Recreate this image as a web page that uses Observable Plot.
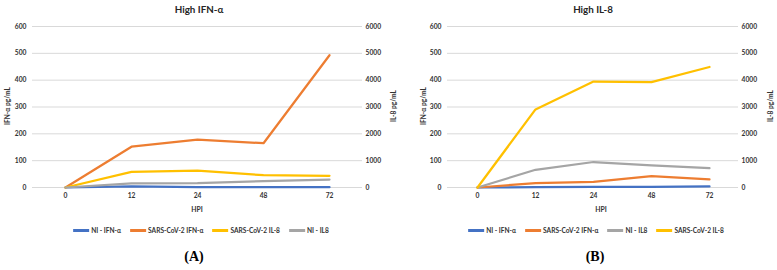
<!DOCTYPE html>
<html>
<head>
<meta charset="utf-8">
<script src="https://cdn.jsdelivr.net/npm/d3@7"></script>
<script src="https://cdn.jsdelivr.net/npm/@observablehq/plot@0.6"></script>
<style>
  html, body { margin: 0; padding: 0; background: #fff; }
  #root { position: relative; width: 777px; height: 270px; background: #fff; font-family: Lato, "Open Sans", sans-serif; color: #262626; overflow: hidden; }
  .abs { position: absolute; white-space: nowrap; }
  .title { font-size: 9.8px; font-weight: 700; transform: translate(-50%, -50%); }
  .ylab { font-size: 6.6px; font-weight: 700; transform: translate(-50%, -50%) rotate(-90deg); color: #333; }
  .xlab { font-size: 6.8px; font-weight: 700; transform: translate(-50%, -50%); color: #333; }
  .legend { display: flex; align-items: center; gap: 9px; transform: translate(-50%, -50%); font-size: 6.6px; font-weight: 700; color: #333; }
  .item { display: flex; align-items: center; gap: 2px; }
  .sw { width: 16px; height: 3px; }
  .cap { font-family: "Liberation Serif", "DejaVu Serif", serif; font-size: 14px; font-weight: 700; color: #000; transform: translate(-50%, -50%); }
  svg { position: absolute; top: 0; }
</style>
</head>
<body>
<div id="root"></div>
<script>
// ---- data ----
const hpi = ["0", "12", "24", "48", "72"];
const yTicks = [0, 100, 200, 300, 400, 500, 600];        // IFN-α pg/mL (left)
const y2Ticks = [0, 1000, 2000, 3000, 4000, 5000, 6000]; // IL-8 pg/mL (right)

const seriesNames = ["NI - IFN-α", "SARS-CoV-2 IFN-α", "SARS-CoV-2 IL-8", "NI - IL8"];
const seriesColors = ["#4472C4", "#ED7D31", "#FFC000", "#A5A5A5"];
const seriesAxis = ["left", "left", "right", "right"];

// Panel A: High IFN-α
const A_niIfn = [0, 4, 1, 1, 1];
const A_sarsIfn = [0, 152, 178, 165, 493];
const A_sarsIl8 = [0, 582, 632, 458, 434];
const A_niIl8 = [0, 150, 160, 235, 297];

// Panel B: High IL-8
const B_niIfn = [0, 1, 2, 2, 4];
const B_sarsIfn = [0, 16, 21, 42, 30];
const B_sarsIl8 = [0, 2910, 3950, 3930, 4490];
const B_niIl8 = [0, 660, 950, 820, 720];

const panels = [
  {
    title: "High IFN-α", caption: "(A)",
    values: { "NI - IFN-α": A_niIfn, "SARS-CoV-2 IFN-α": A_sarsIfn, "SARS-CoV-2 IL-8": A_sarsIl8, "NI - IL8": A_niIl8 },
    order: ["NI - IFN-α", "SARS-CoV-2 IFN-α", "SARS-CoV-2 IL-8", "NI - IL8"],
    left: 0, width: 400, marginLeft: 32, marginRight: 38,
    titleX: 199, leftLabelX: 7, rightLabelX: 393, hpiX: 197, legendX: 201, capX: 194
  },
  {
    title: "High IL-8", caption: "(B)",
    values: { "NI - IFN-α": B_niIfn, "SARS-CoV-2 IFN-α": B_sarsIfn, "SARS-CoV-2 IL-8": B_sarsIl8, "NI - IL8": B_niIl8 },
    order: ["NI - IFN-α", "SARS-CoV-2 IFN-α", "NI - IL8", "SARS-CoV-2 IL-8"],
    left: 400, width: 377, marginLeft: 47, marginRight: 39,
    titleX: 593, leftLabelX: 423, rightLabelX: 770, hpiX: 601, legendX: 596, capX: 595
  }
];

const root = document.getElementById("root");
function addDiv(cls, text, x, y) {
  const d = document.createElement("div");
  d.className = "abs " + cls;
  d.textContent = text;
  d.style.left = x + "px";
  d.style.top = y + "px";
  root.appendChild(d);
  return d;
}

for (const p of panels) {
  const rows = [];
  for (const name of p.order) {
    const idx = seriesNames.indexOf(name);
    const k = seriesAxis[idx] === "right" ? 10 : 1;
    p.values[name].forEach((v, i) => rows.push({ series: name, hpi: hpi[i], y: v / k }));
  }
  const chart = Plot.plot({
    width: p.width,
    height: 205,
    marginTop: 26,
    marginBottom: 18,
    marginLeft: p.marginLeft,
    marginRight: p.marginRight,
    style: { fontFamily: "Lato, 'Open Sans', sans-serif", fontSize: "6.7px", fontWeight: 700, color: "#333", background: "transparent" },
    x: { type: "point", domain: hpi, padding: 0.5 },
    y: { domain: [0, 600] },
    color: { domain: seriesNames, range: seriesColors },
    marks: [
      Plot.gridY(yTicks, { stroke: "#d9d9d9", strokeOpacity: 1, strokeWidth: 1 }),
      Plot.axisY({ anchor: "left", ticks: yTicks, tickSize: 0, tickPadding: 6, label: null }),
      Plot.axisY({ anchor: "right", ticks: yTicks, tickFormat: (d) => String(d * 10), tickSize: 0, tickPadding: 3, label: null }),
      Plot.axisX({ tickSize: 0, tickPadding: 6, label: null }),
      Plot.line(rows, { x: "hpi", y: "y", z: "series", stroke: "series", strokeWidth: 2.25, strokeLinejoin: "round", strokeLinecap: "round" })
    ]
  });
  chart.style.left = p.left + "px";
  root.appendChild(chart);

  addDiv("title", p.title, p.titleX, 9);
  addDiv("ylab", "IFN-α pg/mL", p.leftLabelX, 106);
  addDiv("ylab", "IL-8 pg/mL", p.rightLabelX, 106);
  addDiv("xlab", "HPI", p.hpiX, 209);

  const lg = document.createElement("div");
  lg.className = "abs legend";
  lg.style.left = p.legendX + "px";
  lg.style.top = "230px";
  for (const name of p.order) {
    const it = document.createElement("div");
    it.className = "item";
    const sw = document.createElement("div");
    sw.className = "sw";
    sw.style.background = seriesColors[seriesNames.indexOf(name)];
    const t = document.createElement("span");
    t.textContent = name;
    it.appendChild(sw); it.appendChild(t);
    lg.appendChild(it);
  }
  root.appendChild(lg);

  addDiv("cap", p.caption, p.capX, 257);
}
</script>
</body>
</html>
